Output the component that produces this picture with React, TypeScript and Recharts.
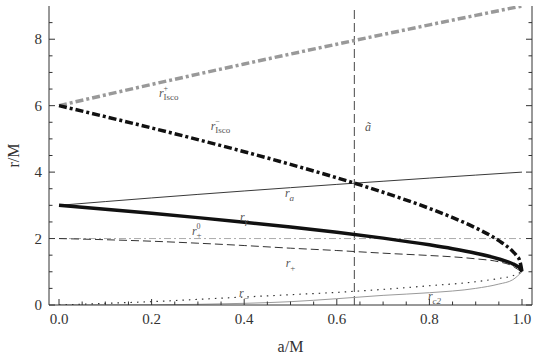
import React from 'react';
import { LineChart, Line, XAxis, YAxis, ReferenceLine, ReferenceDot } from 'recharts';

// ---- data ----
const aKerr = [0, 0.1, 0.2, 0.3, 0.4, 0.5, 0.6, 0.7, 0.8, 0.85, 0.9, 0.95, 0.98, 0.99, 0.995, 1];
const rIscoPlus = [6, 6.323, 6.639, 6.949, 7.254, 7.555, 7.851, 8.143, 8.432, 8.575, 8.717, 8.859, 8.944, 8.972, 8.986, 9.0];
const rIscoMinus = [6, 5.669, 5.329, 4.979, 4.614, 4.233, 3.829, 3.393, 2.907, 2.632, 2.321, 1.937, 1.614, 1.455, 1.341, 1.0];
const rGamma = [3, 2.882, 2.759, 2.63, 2.493, 2.347, 2.189, 2.013, 1.811, 1.694, 1.558, 1.386, 1.24, 1.168, 1.118, 1.0];

const aRa = [0, 0.1, 0.2, 0.3, 0.4, 0.5, 0.6, 0.7, 0.8, 0.9, 1];
const rA = [3, 3.113, 3.223, 3.329, 3.432, 3.532, 3.63, 3.725, 3.819, 3.91, 4.0];

const aHorizon = [0, 0.1, 0.2, 0.3, 0.4, 0.5, 0.6, 0.7, 0.8, 0.85, 0.9, 0.95, 0.98, 0.99, 1];
const rPlus = [2.0, 1.965, 1.92, 1.86, 1.79, 1.71, 1.64, 1.56, 1.49, 1.45, 1.39, 1.3, 1.17, 1.08, 1.0];

const aMinus = [0, 0.1, 0.2, 0.3, 0.4, 0.5, 0.6, 0.7, 0.8, 0.9, 0.95, 0.98, 1];
const rMinus = [0, 0.05, 0.1, 0.17, 0.24, 0.31, 0.38, 0.47, 0.58, 0.7, 0.8, 0.88, 1.0];

const aC2 = [0, 0.2, 0.3, 0.4, 0.5, 0.6, 0.7, 0.8, 0.9, 0.95, 0.98, 1];
const rC2 = [0, 0.005, 0.02, 0.05, 0.1, 0.19, 0.29, 0.37, 0.5, 0.63, 0.76, 1.0];

const aPlus0 = [0, 1];
const rPlus0 = [2, 2];

const aTilde = 0.638;

const xTicks = [0, 0.05, 0.1, 0.15, 0.2, 0.25, 0.3, 0.35, 0.4, 0.45, 0.5, 0.55, 0.6, 0.65, 0.7, 0.75, 0.8, 0.85, 0.9, 0.95, 1];
const xLabels = ['0.0', '0.2', '0.4', '0.6', '0.8', '1.0'];
const yTicks = [0, 0.5, 1, 1.5, 2, 2.5, 3, 3.5, 4, 4.5, 5, 5.5, 6, 6.5, 7, 7.5, 8, 8.5];
const yLabels = ['0', '2', '4', '6', '8'];

type Ann = { a: number; r: number; main: string; sup?: string; sub?: string; subItalic?: boolean };
const annotations: Ann[] = [
  { a: 0.216, r: 6.27, main: 'r', sup: '+', sub: 'Isco' },
  { a: 0.328, r: 5.27, main: 'r', sup: '\u2212', sub: 'Isco' },
  { a: 0.661, r: 5.24, main: '\u00e3' },
  { a: 0.488, r: 3.25, main: 'r', sub: 'a', subItalic: true },
  { a: 0.391, r: 2.53, main: 'r', sub: '\u03b3', subItalic: true },
  { a: 0.287, r: 2.11, main: 'r', sup: '0', sub: '+' },
  { a: 0.49, r: 1.14, main: 'r', sub: '+' },
  { a: 0.389, r: 0.24, main: 'r', sub: '\u2212' },
  { a: 0.797, r: 0.15, main: 'r', sub: 'c2', subItalic: true },
];

const toPts = (xs: number[], ys: number[]) => xs.map((a, i) => ({ a, r: ys[i] }));

const FONT = 'Liberation Serif';
const AXIS = '#333';
const serifStyle = { fontFamily: 'Liberation Serif, serif' };

const fmt1 = (v: number) => v.toFixed(1);
const fmt0 = (v: number) => String(Math.round(v));

const BottomTick = (p: any) => {
  const v = p.payload.value;
  const lab = fmt1(v);
  const maj = xLabels.includes(lab) && Math.abs(v * 5 - Math.round(v * 5)) < 1e-6;
  return (
    <g>
      <line x1={p.x} x2={p.x} y1={p.y} y2={p.y - (maj ? 6 : 3.5)} stroke={AXIS} strokeWidth={1} />
      {maj && (
        <text x={p.x} y={p.y + 19} textAnchor="middle" fontFamily={FONT} style={serifStyle} fontSize={15} fill="#333">
          {lab}
        </text>
      )}
    </g>
  );
};

const TopTick = (p: any) => {
  const v = p.payload.value;
  const maj = Math.abs(v * 5 - Math.round(v * 5)) < 1e-6;
  return <line x1={p.x} x2={p.x} y1={p.y} y2={p.y + (maj ? 6 : 3.5)} stroke={AXIS} strokeWidth={1} />;
};

const LeftTick = (p: any) => {
  const v = p.payload.value;
  const maj = yLabels.includes(fmt0(v)) && Math.abs(v / 2 - Math.round(v / 2)) < 1e-6;
  return (
    <g>
      <line x1={p.x} x2={p.x + (maj ? 6 : 3.5)} y1={p.y} y2={p.y} stroke={AXIS} strokeWidth={1} />
      {maj && (
        <text x={p.x - 7} y={p.y} dy="0.35em" textAnchor="end" fontFamily={FONT} style={serifStyle} fontSize={15} fill="#333">
          {fmt0(v)}
        </text>
      )}
    </g>
  );
};

const RightTick = (p: any) => {
  const v = p.payload.value;
  const maj = Math.abs(v / 2 - Math.round(v / 2)) < 1e-6;
  return <line x1={p.x} x2={p.x - (maj ? 6 : 3.5)} y1={p.y} y2={p.y} stroke={AXIS} strokeWidth={1} />;
};

const makeAnnLabel = (ann: Ann) => (props: any) => {
  const vb = props.viewBox || { x: 0, y: 0, width: 0, height: 0 };
  const x = vb.x + (vb.width || 0) / 2;
  const y = vb.y + (vb.height || 0) / 2;
  return (
    <g style={serifStyle}>
      <text x={x} y={y} fontSize={12} fontStyle="italic" fontFamily={FONT} fill="#555">
        {ann.main}
      </text>
      {ann.sup && (
        <text x={x + 4.5} y={y - 6} fontSize={8} fontFamily={FONT} fill="#555">
          {ann.sup}
        </text>
      )}
      {ann.sub && (
        <text x={x + 4.5} y={y + 3.5} fontSize={9} fontFamily={FONT} fill="#555" fontStyle={ann.subItalic ? 'italic' : 'normal'}>
          {ann.sub}
        </text>
      )}
    </g>
  );
};

export default function App() {
  return (
    <div style={{ position: 'absolute', left: 0, top: 0, width: 540, height: 360, background: '#fff' }}>
      <LineChart width={540} height={360} margin={{ top: 6, right: 0, bottom: 25, left: 0 }}>
        <XAxis
          xAxisId={0}
          type="number"
          dataKey="a"
          domain={[-0.0216, 1.0216]}
          allowDataOverflow
          ticks={xTicks}
          interval={0}
          tickSize={0}
          tickMargin={0}
          tickLine={false}
          tick={BottomTick}
          height={30}
          axisLine={{ stroke: AXIS, strokeWidth: 1 }}
          label={{
            content: (p: any) => {
              const vb = p.viewBox;
              return (
                <text x={vb.x + vb.width / 2} y={vb.y + 47} textAnchor="middle" fontFamily={FONT} style={serifStyle} fontSize={16} fill="#333">
                  a/M
                </text>
              );
            },
          }}
        />
        <XAxis
          xAxisId="top"
          orientation="top"
          type="number"
          dataKey="a"
          domain={[-0.0216, 1.0216]}
          allowDataOverflow
          ticks={xTicks}
          interval={0}
          tickSize={0}
          tickMargin={0}
          tickLine={false}
          tick={TopTick}
          height={0}
          axisLine={{ stroke: AXIS, strokeWidth: 1 }}
        />
        <YAxis
          yAxisId={0}
          type="number"
          domain={[0, 9]}
          allowDataOverflow
          ticks={yTicks}
          interval={0}
          tickSize={0}
          tickMargin={0}
          tickLine={false}
          tick={LeftTick}
          width={49}
          axisLine={{ stroke: AXIS, strokeWidth: 1 }}
          label={{
            content: (p: any) => {
              const vb = p.viewBox;
              const cx = vb.x + 13;
              const cy = vb.y + vb.height / 2;
              return (
                <text
                  x={cx}
                  y={cy}
                  dy="0.35em"
                  textAnchor="middle"
                  transform={`rotate(-90 ${cx} ${cy})`}
                  fontFamily={FONT}
                  style={serifStyle}
                  fontSize={16}
                  fill="#333"
                >
                  r/M
                </text>
              );
            },
          }}
        />
        <YAxis
          yAxisId="right"
          orientation="right"
          type="number"
          domain={[0, 9]}
          allowDataOverflow
          ticks={yTicks}
          interval={0}
          tickSize={0}
          tickMargin={0}
          tickLine={false}
          tick={RightTick}
          width={8}
          axisLine={{ stroke: AXIS, strokeWidth: 1 }}
        />

        <ReferenceLine x={aTilde} stroke="#666" strokeWidth={1.2} strokeDasharray="9 4" />

        <Line data={toPts(aC2, rC2)} dataKey="r" type="monotone" stroke="#9a9a9a" strokeWidth={1} dot={false} activeDot={false} isAnimationActive={false} />
        <Line data={toPts(aPlus0, rPlus0)} dataKey="r" type="linear" stroke="#aaaaaa" strokeWidth={1} strokeDasharray="7 3 2 3" dot={false} activeDot={false} isAnimationActive={false} />
        <Line data={toPts(aKerr, rIscoPlus)} dataKey="r" type="monotone" stroke="#999999" strokeWidth={3.5} strokeDasharray="8 3 3 3" dot={false} activeDot={false} isAnimationActive={false} />
        <Line data={toPts(aHorizon, rPlus)} dataKey="r" type="monotone" stroke="#333" strokeWidth={1} strokeDasharray="8 4" dot={false} activeDot={false} isAnimationActive={false} />
        <Line data={toPts(aMinus, rMinus)} dataKey="r" type="monotone" stroke="#333" strokeWidth={1.2} strokeDasharray="1.5 5" dot={false} activeDot={false} isAnimationActive={false} />
        <Line data={toPts(aRa, rA)} dataKey="r" type="monotone" stroke="#222" strokeWidth={0.9} dot={false} activeDot={false} isAnimationActive={false} />
        <Line data={toPts(aKerr, rGamma)} dataKey="r" type="monotone" stroke="#111" strokeWidth={3.5} dot={false} activeDot={false} isAnimationActive={false} />
        <Line data={toPts(aKerr, rIscoMinus)} dataKey="r" type="monotone" stroke="#111" strokeWidth={3.5} strokeDasharray="8 3 3 3" dot={false} activeDot={false} isAnimationActive={false} />

        {annotations.map((ann, i) => (
          <ReferenceDot
            key={i}
            x={ann.a}
            y={ann.r}
            r={0}
            fill="none"
            stroke="none"
            ifOverflow="visible"
            label={makeAnnLabel(ann)}
          />
        ))}
      </LineChart>
    </div>
  );
}
